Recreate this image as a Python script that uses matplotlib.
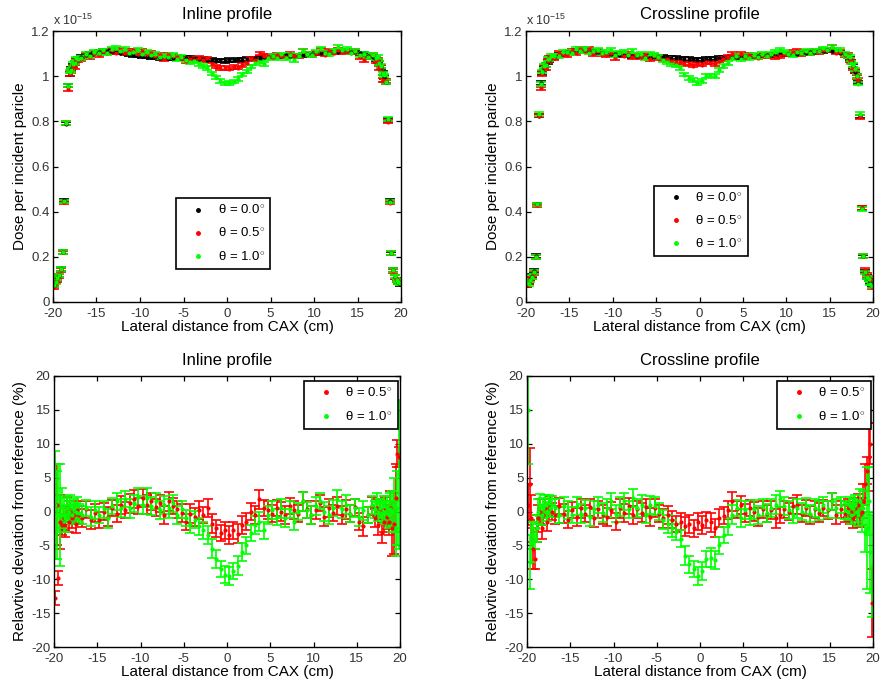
import numpy as np
import matplotlib
matplotlib.use("Agg")
import matplotlib.pyplot as plt
from matplotlib.lines import Line2D

plt.rcParams['font.family'] = ['Liberation Sans', 'DejaVu Sans']
plt.rcParams['mathtext.fontset'] = 'custom'
plt.rcParams['mathtext.rm'] = 'Liberation Sans'
plt.rcParams['mathtext.it'] = 'Liberation Sans:italic'

# ---------------- data ----------------
# lateral positions (cm)
x_cm = [-19.9, -19.7, -19.5, -19.3, -19.1, -18.9, -18.7, -18.5, -18.3, -18.1,
        -17.9, -17.7, -17.5, -17.3, -17.1,
        -16.75, -16.25, -15.75, -15.25, -14.75, -14.25, -13.75, -13.25, -12.75, -12.25,
        -11.75, -11.25, -10.75, -10.25, -9.75, -9.25, -8.75, -8.25, -7.75, -7.25,
        -6.75, -6.25, -5.75, -5.25, -4.75, -4.25, -3.75, -3.25, -2.75, -2.25,
        -1.75, -1.25, -0.75, -0.25, 0.25, 0.75, 1.25, 1.75, 2.25, 2.75,
        3.25, 3.75, 4.25, 4.75, 5.25, 5.75, 6.25, 6.75, 7.25, 7.75,
        8.25, 8.75, 9.25, 9.75, 10.25, 10.75, 11.25, 11.75, 12.25, 12.75,
        13.25, 13.75, 14.25, 14.75, 15.25, 15.75, 16.25, 16.75,
        17.1, 17.3, 17.5, 17.7, 17.9, 18.1, 18.3, 18.5, 18.7, 18.9,
        19.1, 19.3, 19.5, 19.7, 19.9]

# reference dose (theta = 0.0 deg), units of 1e-15
dose0_inline = [0.075, 0.090, 0.105, 0.118, 0.145, 0.222, 0.450, 0.790, 0.958, 1.010,
                1.032, 1.048, 1.060, 1.070, 1.078,
                1.085, 1.093, 1.099, 1.104, 1.108, 1.111, 1.113, 1.112, 1.108, 1.104,
                1.100, 1.097, 1.094, 1.091, 1.089, 1.087, 1.085, 1.083, 1.081, 1.080,
                1.079, 1.080, 1.082, 1.081, 1.082, 1.080, 1.078, 1.077, 1.075, 1.073,
                1.071, 1.069, 1.070, 1.067, 1.071, 1.070, 1.073, 1.072, 1.075, 1.077,
                1.079, 1.081, 1.084, 1.087, 1.089, 1.090, 1.091, 1.092, 1.090, 1.089,
                1.091, 1.094, 1.097, 1.099, 1.101, 1.103, 1.104, 1.105, 1.107, 1.109,
                1.111, 1.110, 1.108, 1.105, 1.101, 1.097, 1.091, 1.084,
                1.077, 1.068, 1.058, 1.040, 1.015, 0.995, 0.975, 0.805, 0.447, 0.215,
                0.142, 0.112, 0.098, 0.087, 0.078]

dose0_crossline = [0.075, 0.086, 0.100, 0.115, 0.137, 0.205, 0.432, 0.825, 0.970, 1.015,
                   1.035, 1.050, 1.062, 1.072, 1.080,
                   1.086, 1.094, 1.100, 1.105, 1.109, 1.112, 1.114, 1.115, 1.113, 1.110,
                   1.107, 1.104, 1.101, 1.099, 1.097, 1.095, 1.093, 1.091, 1.090, 1.089,
                   1.088, 1.087, 1.086, 1.086, 1.085, 1.084, 1.083, 1.082, 1.081, 1.079,
                   1.077, 1.075, 1.074, 1.072, 1.073, 1.075, 1.077, 1.078, 1.080, 1.082,
                   1.083, 1.084, 1.086, 1.087, 1.088, 1.089, 1.090, 1.091, 1.092, 1.093,
                   1.094, 1.095, 1.096, 1.097, 1.098, 1.099, 1.100, 1.102, 1.104, 1.106,
                   1.108, 1.110, 1.112, 1.114, 1.113, 1.110, 1.104, 1.096,
                   1.088, 1.078, 1.065, 1.045, 1.020, 1.000, 0.972, 0.822, 0.415, 0.202,
                   0.135, 0.112, 0.100, 0.087, 0.076]

dose_err = 0.008

# relative deviation from reference (%)
dev_inline_05 = [-12.8, 1.0, -9.8, -1.5, -2.0, -1.0, -2.0, 0.5, -1.5, 0.0,
                 -1.0, -0.5, -1.8, 0.2, -0.5,
                 -1.0, 0.3, -1.2, -0.2, -1.3, 0.0, -0.8, 0.5, -0.3, 1.0,
                 0.2, 1.2, 1.8, 0.8, 2.0, 1.0, 1.5, 0.6, 1.2, -0.5,
                 1.5, 0.8, 0.3, -0.2, -1.5, -0.3, -0.8, 0.2, -0.5, 0.5,
                 -1.8, -2.5, -3.2, -2.8, -3.5, -2.8, -3.3, -2.0, -1.5, 0.0,
                 -0.5, 1.8, 0.5, 0.2, -0.3, 0.5, 0.0, -0.5, 0.8, 0.2,
                 -0.3, 1.5, 0.3, -0.5, 0.2, 1.3, -0.8, 0.5, -0.2, 0.8,
                 -0.5, 0.3, -0.3, 0.6, -1.5, -2.2, -0.5, 0.8,
                 -1.0, 0.5, -2.0, 0.3, -3.2, -1.5, 0.5, -0.8, -1.5, 0.5,
                 -2.5, -1.8, 2.0, 8.5, 8.0]

dev_inline_10 = [1.0, -0.5, 2.0, -0.5, 0.5, -0.5, -1.0, 0.5, 0.0, 1.0,
                 -0.5, 0.5, 0.0, 0.8, -0.2,
                 -0.5, 0.5, -0.8, 0.2, -0.5, 0.3, -1.0, 0.8, 1.5, 0.5,
                 1.8, 0.5, 1.2, 2.2, 1.0, 2.0, 0.8, 1.5, 0.2, 1.0,
                 0.5, 1.2, -0.5, 0.3, -1.0, -1.8, -1.2, -2.2, -2.8, -3.5,
                 -5.5, -7.0, -8.5, -9.3, -9.5, -8.8, -8.0, -6.0, -5.0, -3.2,
                 -2.0, -1.5, -2.8, -0.5, 0.2, -0.8, 0.5, -1.0, 0.3, -1.5,
                 0.0, 1.5, 0.2, -0.5, 0.8, 1.5, 0.0, -0.5, 0.5, 1.8,
                 0.3, 1.0, -0.3, 0.5, -0.8, 0.2, -0.5, 1.0,
                 0.3, 1.5, 0.0, 0.5, -0.3, 0.8, 0.0, 0.5, -0.5, 0.3,
                 0.0, 1.0, -2.5, 0.5, 5.5]

dev_crossline_05 = [1.0, 4.0, -1.0, -5.5, -7.0, -2.5, -1.0, 0.0, -2.5, -0.5,
                    0.5, -1.5, 0.5, 1.0, 0.0,
                    -0.5, 0.8, -0.3, -1.2, 0.2, -0.8, 0.5, -0.3, 0.6, -1.0,
                    0.3, -0.5, -0.8, 0.2, -1.5, 0.5, -0.2, 0.8, -0.5, 0.3,
                    -0.2, 0.6, -0.8, 0.5, -0.3, -1.0, -0.5, -1.2, -1.8, -1.5,
                    -2.2, -1.8, -2.5, -1.5, -2.0, -1.2, -1.6, -2.4, -1.0, -0.6,
                    0.2, 1.5, 0.3, 1.0, -0.2, 0.5, 0.0, -0.8, 0.3, -0.3,
                    0.2, -1.0, -0.5, 0.3, 0.0, 0.8, 1.0, -0.3, 0.5, -0.5,
                    0.3, -0.2, 0.5, 0.2, 1.5, -0.5, 0.3, -0.3,
                    0.5, -0.5, 0.0, -1.0, 0.5, -0.5, 1.0, -0.5, 0.0, 1.5,
                    4.0, 6.0, 8.0, 10.0, -13.5]

dev_crossline_10 = [15.0, -7.5, -4.5, -3.5, -4.0, -2.5, 0.0, 1.0, -0.5, 0.5,
                    1.0, 0.0, 1.2, 0.5, 1.0,
                    0.5, -0.5, 0.8, 0.2, -0.5, 0.8, -0.3, 0.5, -0.8, 0.3,
                    1.0, -0.2, 0.5, 1.5, -0.3, 0.8, 1.5, 0.3, 2.0, 0.5,
                    1.0, -0.5, 1.0, 0.8, 0.0, -1.2, -1.8, -2.5, -3.0, -4.0,
                    -6.5, -7.8, -8.5, -9.5, -8.8, -7.0, -6.8, -7.2, -5.0, -3.5,
                    -2.2, -0.5, 0.5, -1.0, 0.2, -0.8, 0.3, -0.5, 0.6, -0.2,
                    0.5, 1.0, 1.8, 0.8, 0.2, -0.5, 0.5, 0.0, 0.8, -0.3,
                    0.5, 0.2, 1.0, 0.3, 1.5, 0.5, 1.0, 0.2,
                    0.0, 0.8, -0.5, 0.5, 1.0, 0.0, -0.5, 1.5, -1.0, 0.5,
                    -3.0, -2.5, 1.5, -6.0, -8.0]

# uncertainties of the deviation (%): shared central part + edge parts
err_mid = [1.3, 1.2, 1.4, 1.3, 1.2, 1.3, 1.4, 1.2, 1.3, 1.3,
           1.2, 1.4, 1.3, 1.2, 1.3, 1.4, 1.3, 1.2, 1.3, 1.3,
           1.4, 1.2, 1.3, 1.3, 1.2, 1.4, 1.3, 1.3, 1.2, 1.3,
           1.4, 1.3, 1.2, 1.3, 1.3, 1.2, 1.4, 1.3, 1.3, 1.2,
           1.3, 1.4, 1.2, 1.3, 1.3, 1.2, 1.4, 1.3, 1.2, 1.3,
           1.3, 1.4, 1.2, 1.3, 1.3, 1.2, 1.4, 1.3, 1.2, 1.3,
           1.3, 1.4, 1.2, 1.3, 1.3, 1.4, 1.2, 1.3]
err_in05_left = [1.0, 6.0, 1.0, 4.0, 1.5, 1.8, 1.7, 1.6, 1.5, 1.5, 1.4, 1.4, 1.3, 1.3, 1.3]
err_in05_right = [1.3, 1.3, 1.4, 1.4, 1.5, 1.5, 1.6, 1.8, 2.0, 2.5, 4.0, 4.5, 5.0, 2.0, 1.5]
err_in10_left = [8.0, 6.5, 5.0, 7.5, 3.0, 2.5, 2.0, 1.8, 1.6, 1.5, 1.4, 1.4, 1.3, 1.3, 1.3]
err_in10_right = [1.3, 1.3, 1.4, 1.4, 1.5, 1.5, 1.6, 1.8, 2.0, 2.5, 3.0, 4.0, 4.0, 5.5, 11.0]
err_cr05_left = [3.0, 5.3, 3.5, 3.0, 1.5, 2.0, 2.0, 1.8, 1.6, 1.5, 1.4, 1.4, 1.3, 1.3, 1.3]
err_cr05_right = [1.3, 1.3, 1.4, 1.4, 1.5, 1.5, 1.6, 1.8, 2.0, 2.5, 3.0, 2.0, 5.0, 3.0, 5.0]
err_cr10_left = [8.0, 4.0, 3.0, 2.0, 1.5, 2.0, 1.8, 1.6, 1.5, 1.5, 1.4, 1.4, 1.3, 1.3, 1.3]
err_cr10_right = [1.3, 1.3, 1.4, 1.4, 1.5, 1.5, 1.6, 1.8, 2.0, 2.5, 3.0, 9.0, 5.0, 6.0, 7.5]

labels_top = [r'θ = 0.0$^{\circ}$', r'θ = 0.5$^{\circ}$', r'θ = 1.0$^{\circ}$']
labels_bot = [r'θ = 0.5$^{\circ}$', r'θ = 1.0$^{\circ}$']
colors_top = ['#000000', '#ff0000', '#00ff00']
colors_bot = ['#ff0000', '#00ff00']
titles = ['Inline profile', 'Crossline profile']

# ---------------- build series ----------------
x = np.array(x_cm)
series = {}
for name in ['dose0_inline', 'dose0_crossline', 'dev_inline_05', 'dev_inline_10',
             'dev_crossline_05', 'dev_crossline_10']:
    arr = np.array(globals()[name], dtype=float)
    assert len(arr) == len(x), (name, len(arr))
    series[name] = arr

err_in05 = np.array(err_in05_left + err_mid + err_in05_right)
err_in10 = np.array(err_in10_left + err_mid + err_in10_right)
err_cr05 = np.array(err_cr05_left + err_mid + err_cr05_right)
err_cr10 = np.array(err_cr10_left + err_mid + err_cr10_right)
for e in (err_in05, err_in10, err_cr05, err_cr10):
    assert len(e) == len(x)

d0_in = series['dose0_inline']
d0_cr = series['dose0_crossline']
top_data = [
    [d0_in, d0_in * (1 + series['dev_inline_05'] / 100), d0_in * (1 + series['dev_inline_10'] / 100)],
    [d0_cr, d0_cr * (1 + series['dev_crossline_05'] / 100), d0_cr * (1 + series['dev_crossline_10'] / 100)],
]
bot_data = [
    [(series['dev_inline_05'], err_in05), (series['dev_inline_10'], err_in10)],
    [(series['dev_crossline_05'], err_cr05), (series['dev_crossline_10'], err_cr10)],
]

# ---------------- figure ----------------
fig = plt.figure(figsize=(8.82, 6.88), dpi=100)
W, H = 882, 688
def axpos(l, t, r, b):
    return [l / W, 1 - b / H, (r - l) / W, (b - t) / H]

ax_tl = fig.add_axes(axpos(53, 31, 401, 302))
ax_tr = fig.add_axes(axpos(526, 31, 873, 302))
ax_bl = fig.add_axes(axpos(54, 376, 400, 647))
ax_br = fig.add_axes(axpos(527, 376, 873, 647))

tick_col = '#333333'

def style(ax):
    ax.tick_params(direction='in', top=True, right=True, length=3.5, width=0.9,
                   labelsize=9.5, labelcolor=tick_col)
    ax.tick_params(axis='x', pad=4.5)
    ax.tick_params(axis='y', pad=2.5)
    for s in ax.spines.values():
        s.set_linewidth(1.0)
    ax.set_xlim(-20, 20)
    ax.set_xticks(np.arange(-20, 21, 5))
    ax.set_xticklabels([str(v) for v in range(-20, 21, 5)])
    ax.set_xlabel('Lateral distance from CAX (cm)', fontsize=11, labelpad=0)

eb_kw = dict(fmt='.', markersize=4, elinewidth=1.2, capsize=3.8, capthick=1.2)

for k, ax in enumerate([ax_tl, ax_tr]):
    for yv, c in zip(top_data[k], colors_top):
        ax.errorbar(x, yv, yerr=dose_err, color=c, ecolor=c, **eb_kw)
    style(ax)
    ax.set_ylim(0, 1.2)
    yt = [0, 0.2, 0.4, 0.6, 0.8, 1.0, 1.2]
    ax.set_yticks(yt)
    ax.set_yticklabels(['0', '0.2', '0.4', '0.6', '0.8', '1', '1.2'])
    ax.set_ylabel('Dose per incident paricle', fontsize=11, labelpad=3)
    ax.set_title(titles[k], fontsize=12, pad=9)
    ax.text(0.0, 1.01, r'x 10$^{-15}$', transform=ax.transAxes, fontsize=9,
            color=tick_col, ha='left', va='bottom')
    handles = [Line2D([], [], ls='none', marker='.', markersize=5, color=c) for c in colors_top]
    anchor = (0.4885, 0.2525) if k == 0 else (0.503, 0.2985)
    leg = ax.legend(handles, labels_top, loc='center', bbox_to_anchor=anchor,
                    frameon=True, fancybox=False, edgecolor='k', framealpha=1,
                    fontsize=9.5, handlelength=2.6, handletextpad=0.15,
                    borderpad=0.4, labelspacing=0.7, borderaxespad=0)
    leg.get_frame().set_linewidth(1.2)

for k, ax in enumerate([ax_bl, ax_br]):
    for (yv, ev), c in zip(bot_data[k], colors_bot):
        ax.errorbar(x, yv, yerr=ev, color=c, ecolor=c, **eb_kw)
    style(ax)
    ax.set_ylim(-20, 20)
    ax.set_yticks(np.arange(-20, 21, 5))
    ax.set_yticklabels([str(v) for v in range(-20, 21, 5)])
    ax.set_ylabel('Relavtive deviation from reference (%)', fontsize=11, labelpad=3)
    ax.set_title(titles[k], fontsize=12, pad=8)
    handles = [Line2D([], [], ls='none', marker='.', markersize=5, color=c) for c in colors_bot]
    leg = ax.legend(handles, labels_bot, loc='center', bbox_to_anchor=(0.858, 0.893),
                    frameon=True, fancybox=False, edgecolor='k', framealpha=1,
                    fontsize=9.5, handlelength=2.6, handletextpad=0.15,
                    borderpad=0.4, labelspacing=0.8, borderaxespad=0)
    leg.get_frame().set_linewidth(1.2)

fig.savefig('out.png', dpi=100)
